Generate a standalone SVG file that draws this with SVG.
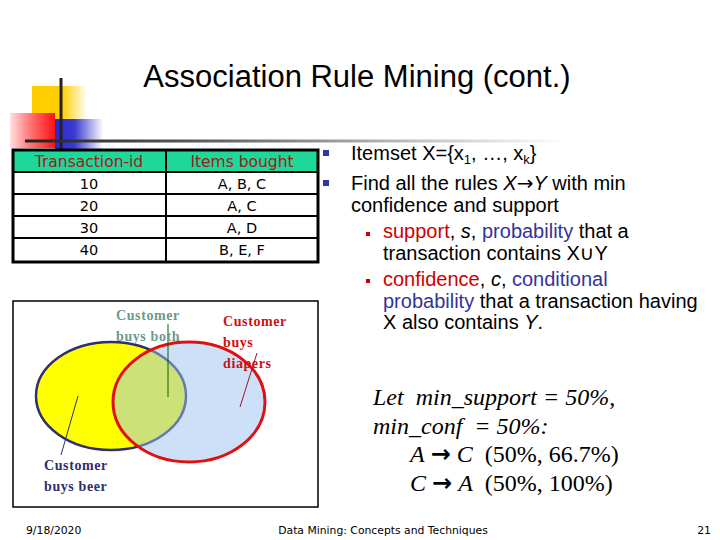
<svg xmlns="http://www.w3.org/2000/svg" width="720" height="540" viewBox="0 0 720 540">
<defs>
<linearGradient id="gY" x1="0" y1="0" x2="1" y2="0"><stop offset="0" stop-color="#FFCC00"/><stop offset="0.55" stop-color="#FFD000"/><stop offset="1" stop-color="#FFCC00" stop-opacity="0"/></linearGradient>
<linearGradient id="gR2" x1="0" y1="0" x2="1" y2="0"><stop offset="0" stop-color="#FFE0E0"/><stop offset="0.4" stop-color="#FF8080"/><stop offset="1" stop-color="#FF1010"/></linearGradient>
<linearGradient id="gB" x1="0" y1="0" x2="1" y2="0"><stop offset="0" stop-color="#2A2ACC"/><stop offset="0.4" stop-color="#3A3AD0"/><stop offset="1" stop-color="#3333CC" stop-opacity="0"/></linearGradient>
<linearGradient id="gL" x1="0" y1="0" x2="1" y2="0"><stop offset="0" stop-color="#222222"/><stop offset="0.3" stop-color="#555555"/><stop offset="0.7" stop-color="#BBBBBB"/><stop offset="1" stop-color="#FFFFFF"/></linearGradient>
</defs>
<style>
text{white-space:pre}
.title{font-family:"Liberation Sans","DejaVu Sans",sans-serif;font-size:31px;fill:#000}
.th{font-family:"DejaVu Sans","Liberation Sans",sans-serif;font-size:15.5px;fill:#A01818;text-anchor:middle}
.td{font-family:"DejaVu Sans","Liberation Sans",sans-serif;font-size:14.5px;fill:#000;text-anchor:middle}
.b{font-family:"Liberation Sans","DejaVu Sans",sans-serif;font-size:20px;fill:#000}
.ar{font-family:"DejaVu Sans",sans-serif}
.red{fill:#CC0000}
.blu{fill:#333399}
.v{font-family:"Liberation Serif","DejaVu Serif",serif;font-size:14px;font-weight:bold;letter-spacing:0.6px}
.m{font-family:"Liberation Serif","DejaVu Serif",serif;font-size:24px;fill:#000}
.ft{font-family:"DejaVu Sans","Liberation Sans",sans-serif;font-size:10.8px;fill:#000}
</style>
<rect width="720" height="540" fill="#FFFFFF"/>
<g id="decoration">
<rect x="32" y="86" width="55" height="33" fill="url(#gY)"/>
<rect x="10" y="113" width="45" height="35" fill="url(#gR2)"/>
<rect x="55" y="119" width="48" height="30" fill="url(#gB)"/>
<line x1="61" y1="78" x2="61" y2="152" stroke="#222" stroke-width="3"/>
<rect x="25" y="139.5" width="540" height="3" fill="url(#gL)"/>
</g>
<text class="title" x="357" y="87" text-anchor="middle">Association Rule Mining (cont.)</text>
<g id="table">
<rect x="13" y="150" width="305" height="22" fill="#1ED89A"/>
<rect x="13" y="172" width="305" height="90" fill="#FFFFFF"/>
<g stroke="#000" stroke-width="2" fill="none">
<line x1="13" y1="172" x2="318" y2="172"/>
<line x1="13" y1="194" x2="318" y2="194"/>
<line x1="13" y1="216" x2="318" y2="216"/>
<line x1="13" y1="238" x2="318" y2="238"/>
<line x1="166" y1="150" x2="166" y2="262"/>
<rect x="13" y="150" width="305" height="112" stroke-width="3"/>
</g>
<text class="th" x="89" y="167">Transaction-id</text>
<text class="th" x="242" y="167">Items bought</text>
<text class="td" x="89" y="189">10</text><text class="td" x="242" y="189">A, B, C</text>
<text class="td" x="89" y="211">20</text><text class="td" x="242" y="211">A, C</text>
<text class="td" x="89" y="233">30</text><text class="td" x="242" y="233">A, D</text>
<text class="td" x="89" y="255">40</text><text class="td" x="242" y="255">B, E, F</text>
</g>
<g id="bullets">
<rect x="323" y="150" width="6" height="6" fill="#3333AA"/>
<rect x="323" y="180" width="6" height="6" fill="#3333AA"/>
<rect x="366" y="232" width="4" height="4" fill="#CC0000"/>
<rect x="366" y="279" width="4" height="4" fill="#CC0000"/>
<text class="b" x="351" y="160">Itemset X={x<tspan font-size="13" dy="4">1</tspan><tspan dy="-4">, …, x</tspan><tspan font-size="13" dy="4">k</tspan><tspan dy="-4">}</tspan></text>
<text class="b" x="351" y="190">Find all the rules <tspan font-style="italic">X</tspan><tspan class="ar">→</tspan><tspan font-style="italic">Y</tspan> with min</text>
<text class="b" x="351" y="212">confidence and support</text>
<text class="b" x="383" y="238"><tspan class="red">support</tspan>, <tspan font-style="italic">s</tspan>, <tspan class="blu">probability</tspan> that a</text>
<text class="b" x="383" y="260">transaction contains X∪Y</text>
<text class="b" x="383" y="286"><tspan class="red">confidence</tspan>, <tspan font-style="italic">c</tspan>, <tspan class="blu">conditional</tspan></text>
<text class="b" x="383" y="308"><tspan class="blu">probability</tspan> that a transaction having</text>
<text class="b" x="383" y="329">X also contains <tspan font-style="italic">Y</tspan>.</text>
</g>
<g id="venn">
<rect x="13" y="301" width="305" height="206" fill="#FFFFFF" stroke="#000" stroke-width="1.5"/>
<ellipse cx="111" cy="396" rx="75" ry="54" fill="#FFFF00" stroke="#2E2E70" stroke-width="2.5"/>
<ellipse cx="189" cy="402" rx="76" ry="60" fill="#99C4F0" fill-opacity="0.5" stroke="none"/>
<ellipse cx="189" cy="402" rx="76" ry="60" fill="none" stroke="#E01010" stroke-width="3"/>
<g id="pointers" stroke-width="1">
<line x1="168" y1="324" x2="168" y2="397" stroke="#006600"/>
<line x1="257" y1="353" x2="240" y2="407" stroke="#A01030"/>
<line x1="78" y1="396" x2="61" y2="455" stroke="#2E2E70"/>
</g>
<text class="v" x="116" y="320" fill="#6A9A8A">Customer</text>
<text class="v" x="116" y="341" fill="#6A9A8A">buys both</text>
<text class="v" x="223" y="326" fill="#CC1111">Customer</text>
<text class="v" x="223" y="347" fill="#CC1111">buys</text>
<text class="v" x="223" y="368" fill="#CC1111">diapers</text>
<text class="v" x="44" y="470" fill="#2E2E70">Customer</text>
<text class="v" x="44" y="491" fill="#2E2E70">buys beer</text>
</g>
<g id="rules">
<text class="m" x="373" y="405" font-style="italic">Let  min_support = 50%,</text>
<text class="m" x="373" y="434" font-style="italic">min_conf  = 50%:</text>
<text class="m" x="410" y="462"><tspan font-style="italic">A</tspan> <tspan class="ar" font-size="24" font-weight="bold">→</tspan> <tspan font-style="italic">C</tspan>  (50%, 66.7%)</text>
<text class="m" x="410" y="491"><tspan font-style="italic">C</tspan> <tspan class="ar" font-size="24" font-weight="bold">→</tspan> <tspan font-style="italic">A</tspan>  (50%, 100%)</text>
</g>
<g id="footer">
<text class="ft" x="26" y="534">9/18/2020</text>
<text class="ft" x="383" y="534" text-anchor="middle">Data Mining: Concepts and Techniques</text>
<text class="ft" x="711" y="534" text-anchor="end">21</text>
</g>
</svg>
